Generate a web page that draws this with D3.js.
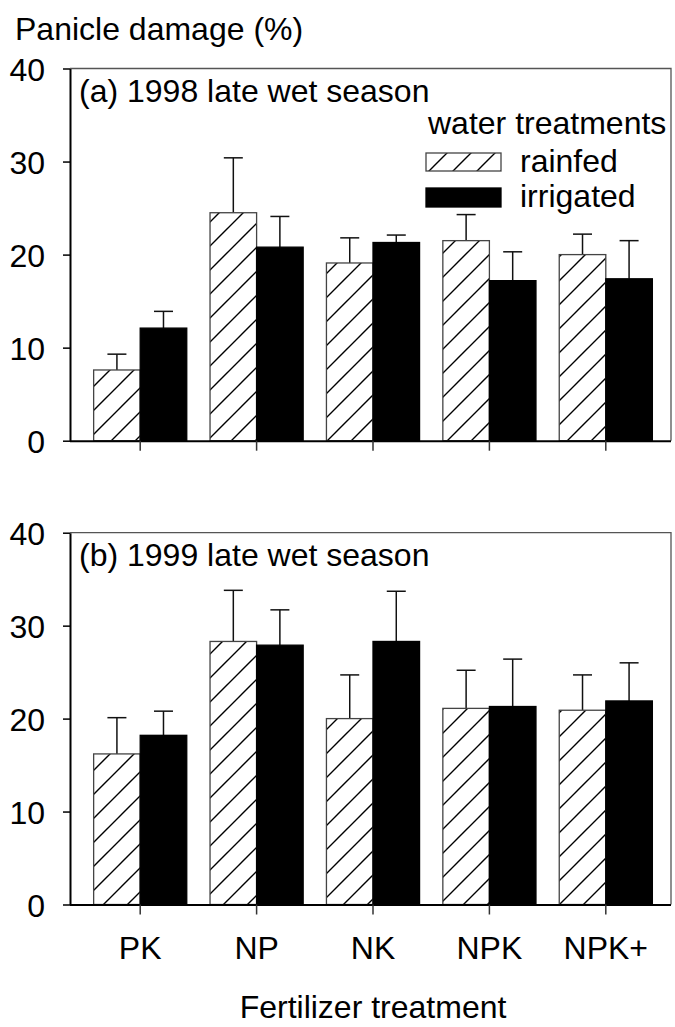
<!DOCTYPE html>
<html>
<head>
<meta charset="utf-8">
<script src="https://cdn.jsdelivr.net/npm/d3@7/dist/d3.min.js"></script>
<style>
  html, body { margin: 0; padding: 0; background: #fff; }
  svg { display: block; font-family: "Liberation Sans", Arial, sans-serif; }
</style>
</head>
<body>
<svg id="chart" width="675" height="1027"></svg>
<script>
// Fertilizer treatments on the x axis
const categories = ["PK", "NP", "NK", "NPK", "NPK+"];
const seriesNames = ["rainfed", "irrigated"];
const yTicks = [0, 10, 20, 30, 40];

// 1998 late wet season: mean panicle damage (%) and standard error
const rainfed1998 = [7.6, 24.5, 19.1, 21.5, 20.0];
const rainfed1998Err = [1.7, 5.9, 2.7, 2.8, 2.2];
const irrigated1998 = [12.1, 20.8, 21.3, 17.2, 17.4];
const irrigated1998Err = [1.8, 3.3, 0.8, 3.1, 4.1];

// 1999 late wet season
const rainfed1999 = [16.2, 28.3, 20.0, 21.1, 20.9];
const rainfed1999Err = [3.9, 5.5, 4.7, 4.1, 3.8];
const irrigated1999 = [18.2, 27.9, 28.3, 21.3, 21.9];
const irrigated1999Err = [2.6, 3.8, 5.4, 5.1, 4.1];

const panels = [
  { title: "(a) 1998 late wet season", top: 68.5, bottom: 440.7, showLabels: false, legend: true,
    values: [rainfed1998, irrigated1998], errs: [rainfed1998Err, irrigated1998Err] },
  { title: "(b) 1999 late wet season", top: 532.7, bottom: 904.5, showLabels: true, legend: false,
    values: [rainfed1999, irrigated1999], errs: [rainfed1999Err, irrigated1999Err] }
];

const svg = d3.select("#chart");
const FONT = 32;
const left = 70, right = 671;

// Diagonal hatch pattern for the rainfed bars
const defs = svg.append("defs");
const pat = defs.append("pattern")
  .attr("id", "hatch")
  .attr("patternUnits", "userSpaceOnUse")
  .attr("width", 24).attr("height", 24);
pat.append("rect").attr("width", 24).attr("height", 24).attr("fill", "#fff");
pat.append("path")
  .attr("d", "M-6,6 L6,-6 M0,24 L24,0 M18,30 L30,18")
  .attr("stroke", "#000").attr("stroke-width", 1.4);

const x = d3.scaleBand().domain(categories).range([82, 664])
  .paddingInner(0.2).paddingOuter(0.1);
const xs = d3.scaleBand().domain(seriesNames).range([0, x.bandwidth()]);

const fills = { rainfed: "url(#hatch)", irrigated: "#000" };

panels.forEach(p => {
  const y = d3.scaleLinear().domain([0, 40]).range([p.bottom, p.top]);
  const g = svg.append("g");

  // top and right frame
  g.append("path")
    .attr("d", `M${left},${p.top} H${right} V${p.bottom}`)
    .attr("fill", "none").attr("stroke", "#555").attr("stroke-width", 1.3);

  // bars
  const rows = [];
  categories.forEach((c, i) => {
    seriesNames.forEach((s, k) => {
      rows.push({ cat: c, series: s, value: p.values[k][i], err: p.errs[k][i] });
    });
  });

  // error bars (upper only)
  const eb = g.selectAll(".err").data(rows).join("g").attr("class", "err");
  eb.append("line")
    .attr("x1", d => x(d.cat) + xs(d.series) + xs.bandwidth() / 2)
    .attr("x2", d => x(d.cat) + xs(d.series) + xs.bandwidth() / 2)
    .attr("y1", d => y(d.value))
    .attr("y2", d => y(d.value + d.err))
    .attr("stroke", "#111").attr("stroke-width", 1.5);
  eb.append("line")
    .attr("x1", d => x(d.cat) + xs(d.series) + xs.bandwidth() / 2 - 9.5)
    .attr("x2", d => x(d.cat) + xs(d.series) + xs.bandwidth() / 2 + 9.5)
    .attr("y1", d => y(d.value + d.err))
    .attr("y2", d => y(d.value + d.err))
    .attr("stroke", "#111").attr("stroke-width", 1.5);

  g.selectAll(".bar").data(rows).join("rect")
    .attr("class", "bar")
    .attr("x", d => x(d.cat) + xs(d.series))
    .attr("width", xs.bandwidth())
    .attr("y", d => y(d.value))
    .attr("height", d => y(0) - y(d.value))
    .attr("fill", d => fills[d.series])
    .attr("stroke", d => d.series === "rainfed" ? "#444" : "#000")
    .attr("stroke-width", 1.3);

  // left axis
  const ya = g.append("g")
    .attr("transform", `translate(${left},0)`)
    .call(d3.axisLeft(y).tickValues(yTicks).tickSize(7).tickSizeOuter(0).tickPadding(18));
  ya.select(".domain").attr("stroke", "#000").attr("stroke-width", 2);
  ya.selectAll(".tick line").attr("stroke", "#000").attr("stroke-width", 1.5);
  ya.selectAll(".tick text")
    .attr("font-size", FONT).attr("font-family", "Liberation Sans, Arial, sans-serif")
    .attr("fill", "#000").attr("dy", "0.36em");

  // bottom axis, ticks at each group centre
  const xa = g.append("g")
    .attr("transform", `translate(0,${p.bottom})`)
    .call(d3.axisBottom(x).tickSize(10).tickSizeOuter(0).tickPadding(22));
  xa.select(".domain").attr("d", `M${left},0.5H${right}`)
    .attr("stroke", "#000").attr("stroke-width", 2);
  xa.selectAll(".tick line").attr("stroke", "#333").attr("stroke-width", 1.5);
  xa.selectAll(".tick text")
    .attr("font-size", FONT).attr("font-family", "Liberation Sans, Arial, sans-serif")
    .attr("fill", "#000")
    .style("display", p.showLabels ? null : "none");

  // panel title
  g.append("text")
    .attr("x", 79).attr("y", p.top + 33.5)
    .attr("font-size", FONT).text(p.title);

  if (p.legend) {
    const lg = g.append("g");
    lg.append("text").attr("x", 428).attr("y", 134).attr("font-size", FONT).text("water treatments");
    const items = [
      { name: "rainfed", y0: 153, h: 18, base: 172 },
      { name: "irrigated", y0: 188, h: 19, base: 207 }
    ];
    items.forEach(it => {
      lg.append("rect")
        .attr("x", 426).attr("y", it.y0).attr("width", 75).attr("height", it.h)
        .attr("fill", fills[it.name])
        .attr("stroke", it.name === "rainfed" ? "#444" : "#000").attr("stroke-width", 1.3);
      lg.append("text").attr("x", 520).attr("y", it.base).attr("font-size", FONT).text(it.name);
    });
  }
});

// axis titles
svg.append("text").attr("x", 15).attr("y", 40).attr("font-size", FONT).text("Panicle damage (%)");
svg.append("text").attr("x", 373).attr("y", 1018).attr("text-anchor", "middle")
  .attr("font-size", FONT).text("Fertilizer treatment");
</script>
</body>
</html>
